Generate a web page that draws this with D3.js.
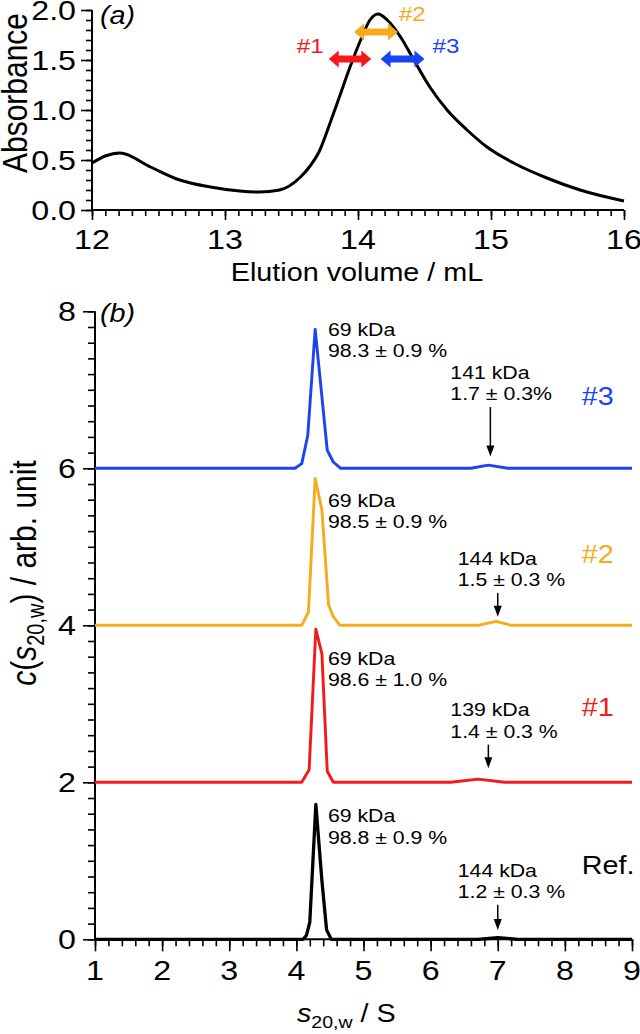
<!DOCTYPE html>
<html><head><meta charset="utf-8">
<script src="https://cdn.jsdelivr.net/npm/d3@7"></script>
<style>
body{margin:0;background:#fff}
svg{display:block}
text{font-family:"Liberation Sans",Arial,Helvetica,sans-serif}
</style>
</head><body>
<svg id="chart" width="640" height="1034"></svg>
<script>
// ---------- DATA: panel (a) size-exclusion chromatogram ----------
const elutionVolume = [12.0, 12.1, 12.21, 12.44, 12.66, 12.89, 13.11, 13.26, 13.41, 13.56, 13.64, 13.71, 13.79, 13.86, 13.94, 14.02, 14.09, 14.15, 14.22, 14.32, 14.42, 14.54, 14.67, 14.82, 14.97, 15.17, 15.42, 15.67, 16.0];
const absorbance    = [0.47, 0.54, 0.57, 0.43, 0.30, 0.23, 0.19, 0.18, 0.20, 0.32, 0.44, 0.59, 0.87, 1.13, 1.43, 1.70, 1.90, 1.96, 1.90, 1.73, 1.50, 1.23, 1.00, 0.80, 0.63, 0.47, 0.32, 0.20, 0.09];
const fractionNames = ["#1", "#2", "#3"];
const fractionStart = [13.78, 13.97, 14.17];
const fractionEnd   = [14.10, 14.30, 14.50];
const fractionLevel = [1.51, 1.78, 1.51];

// ---------- DATA: panel (b) c(s) distributions ----------
const seriesNames  = ["Ref.", "#1", "#2", "#3"];
const seriesOffset = [0, 2, 4, 6];
const sRef  = [1, 4.10, 4.15, 4.20, 4.29, 4.38, 4.45, 4.52, 6.7, 7.0, 7.3, 9];
const cRef  = [0, 0, 0.05, 0.22, 1.72, 0.75, 0.12, 0, 0, 0.02, 0, 0];
const sF1   = [1, 4.08, 4.19, 4.29, 4.38, 4.46, 4.55, 6.3, 6.71, 7.1, 9];
const cF1   = [0, 0, 0.16, 1.95, 1.64, 0.14, 0, 0, 0.04, 0, 0];
const sF2   = [1, 4.08, 4.18, 4.28, 4.38, 4.48, 4.55, 4.65, 6.7, 6.98, 7.2, 9];
const cF2   = [0, 0, 0.17, 1.87, 1.47, 0.26, 0.11, 0, 0, 0.05, 0, 0];
const sF3   = [1, 3.98, 4.08, 4.17, 4.28, 4.46, 4.55, 4.66, 6.6, 6.86, 7.15, 9];
const cF3   = [0, 0, 0.06, 0.42, 1.77, 0.23, 0.08, 0, 0, 0.04, 0, 0];
const monomerMass = ["69 kDa", "69 kDa", "69 kDa", "69 kDa"];
const monomerPct  = ["98.8 ± 0.9 %", "98.6 ± 1.0 %", "98.5 ± 0.9 %", "98.3 ± 0.9 %"];
const dimerMass   = ["144 kDa", "139 kDa", "144 kDa", "141 kDa"];
const dimerPct    = ["1.2 ± 0.3 %", "1.4 ± 0.3 %", "1.5 ± 0.3 %", "1.7 ± 0.3%"];
const dimerS      = [7.0, 6.86, 7.0, 6.89];

// ---------- tick labels ----------
const xTicksA = [12, 13, 14, 15, 16];
const yTicksA = [0, 0.5, 1.0, 1.5, 2.0];
const xTicksB = [1, 2, 3, 4, 5, 6, 7, 8, 9];
const yTicksB = [0, 2, 4, 6, 8];

// ---------- styles ----------
const colors = ["#000000", "#f41a1a", "#f6aa1c", "#1a43f2"];
const fracColors = [colors[1], colors[2], colors[3]];
const SX = 1.15; // horizontal text stretch of the original figure

const svg = d3.select("#chart");

function txt(g, x, y, s, size, anchor, opt) {
  opt = opt || {};
  const t = g.append("text")
    .attr("transform", `translate(${x},${y}) scale(${SX},1)` + (opt.rotate ? " rotate(-90)" : ""))
    .attr("font-size", size)
    .attr("text-anchor", anchor || "start")
    .attr("fill", opt.fill || "#000");
  if (opt.family) t.attr("font-family", opt.family);
  if (opt.italic) t.attr("font-style", "italic");
  if (s !== null) t.text(s);
  return t;
}

function drawAxes(x, y, xMajor, xMinor, yMajor, yMinor, xLen, yLen, xFmt, yFmt, xLabY, yLabX) {
  const g = svg.append("g");
  const y0 = y.range()[0], x0 = x.range()[0];
  const style = sel => { sel.select(".domain").remove(); sel.selectAll("line").attr("stroke", "#000").attr("stroke-width", 1.6); };
  g.append("g").attr("transform", `translate(0,${y0})`)
    .call(d3.axisBottom(x).tickValues(xMinor).tickSize(xLen[1]).tickFormat("")).call(style);
  g.append("g").attr("transform", `translate(0,${y0})`)
    .call(d3.axisBottom(x).tickValues(xMajor).tickSize(xLen[0]).tickFormat("")).call(style);
  g.append("g").attr("transform", `translate(${x0},0)`)
    .call(d3.axisLeft(y).tickValues(yMinor).tickSize(yLen[1]).tickFormat("")).call(style);
  g.append("g").attr("transform", `translate(${x0},0)`)
    .call(d3.axisLeft(y).tickValues(yMajor).tickSize(yLen[0]).tickFormat("")).call(style);
  g.append("line").attr("x1", x0).attr("x2", x.range()[1]).attr("y1", y0).attr("y2", y0)
    .attr("stroke", "#000").attr("stroke-width", 2);
  g.append("line").attr("x1", x0).attr("x2", x0).attr("y1", y0).attr("y2", y.range()[1])
    .attr("stroke", "#000").attr("stroke-width", 2);
  xMajor.forEach(v => txt(g, x(v), xLabY, xFmt(v), 28, "middle"));
  yMajor.forEach(v => txt(g, yLabX, y(v) + 10, yFmt(v), 28, "end"));
}

// ================= Panel (a) =================
const xA = d3.scaleLinear().domain([12, 16]).range([92, 624]);
const yA = d3.scaleLinear().domain([0, 2]).range([210, 10]);
drawAxes(xA, yA, xTicksA, d3.range(120, 161, 1).map(v => v / 10), yTicksA, d3.range(0, 21, 1).map(v => v / 10),
  [10, 6], [11, 6], d3.format("d"), d3.format(".1f"), 249, 76);

const lineA = d3.line().x((d, i) => xA(elutionVolume[i])).y(d => yA(d)).curve(d3.curveMonotoneX);
svg.append("path").attr("d", lineA(absorbance)).attr("fill", "none").attr("stroke", "#000").attr("stroke-width", 3);

// double-headed fraction arrows
fractionNames.forEach((n, i) => {
  const xs = xA(fractionStart[i]), xe = xA(fractionEnd[i]), yc = yA(fractionLevel[i]);
  const hl = 10, hh = 8.5, sh = 3.4;
  const p = d3.path();
  p.moveTo(xs, yc);
  p.lineTo(xs + hl, yc - hh); p.lineTo(xs + hl, yc - sh);
  p.lineTo(xe - hl, yc - sh); p.lineTo(xe - hl, yc - hh);
  p.lineTo(xe, yc); p.lineTo(xe - hl, yc + hh); p.lineTo(xe - hl, yc + sh);
  p.lineTo(xs + hl, yc + sh); p.lineTo(xs + hl, yc + hh); p.closePath();
  svg.append("path").attr("d", p.toString()).attr("fill", fracColors[i]);
});
const gA = svg.append("g");
txt(gA, xA(fractionStart[0]) - 32, yA(fractionLevel[0]) - 6, fractionNames[0], 21, "start", {fill: fracColors[0]});
txt(gA, xA(fractionEnd[1]) + 1, yA(fractionLevel[1]) - 11, fractionNames[1], 21, "start", {fill: fracColors[1]});
txt(gA, xA(fractionEnd[2]) + 8, yA(fractionLevel[2]) - 6, fractionNames[2], 21, "start", {fill: fracColors[2]});

txt(gA, 100, 24, "(a)", 25, "start", {family: "'Liberation Serif','Times New Roman',serif", italic: true});
txt(gA, 27, 93, "Absorbance", 30, "middle", {rotate: true});
txt(gA, 357, 281, "Elution volume / mL", 25, "middle");

// ================= Panel (b) =================
const xB = d3.scaleLinear().domain([1, 9]).range([95, 632]);
const yB = d3.scaleLinear().domain([0, 8]).range([939.3, 311.3]);
drawAxes(xB, yB, xTicksB, d3.range(10, 91, 2).map(v => v / 10), yTicksB, d3.range(0, 81, 2).map(v => v / 10),
  [12, 7], [12, 7], d3.format("d"), d3.format("d"), 980, 76);

const sArr = [sRef, sF1, sF2, sF3];
const cArr = [cRef, cF1, cF2, cF3];
[1, 2, 3, 0].forEach(k => {
  const line = d3.line().x((d, i) => xB(sArr[k][i])).y(d => yB(d + seriesOffset[k]));
  svg.append("path").attr("d", line(cArr[k])).attr("fill", "none")
    .attr("stroke", colors[k]).attr("stroke-width", k === 0 ? 3.3 : 2.9).attr("stroke-linejoin", "round");
});

const gB = svg.append("g");
const monoS = 4.47, dimTextDx = [-40, -38, -40, -40];
seriesNames.forEach((n, k) => {
  const off = seriesOffset[k];
  // monomer annotation
  txt(gB, xB(monoS), yB(off + [1.49, 1.49, 1.51, 1.68][k]), monomerMass[k], 18.5, "start");
  txt(gB, xB(monoS), yB(off + [1.22, 1.23, 1.24, 1.42][k]), monomerPct[k], 18.5, "start");
  // dimer annotation
  const ax = xB(dimerS[k]);
  const top = [0.80, 0.84, 0.77, 1.14][k];
  txt(gB, ax + dimTextDx[k], yB(off + top), dimerMass[k], 18.5, "start");
  txt(gB, ax + dimTextDx[k], yB(off + top - 0.27), dimerPct[k], 18.5, "start");
  const a0 = yB(off + top - 0.36), a1 = yB(off + [0.12, 0.18, 0.11, 0.15][k]);
  gB.append("line").attr("x1", ax).attr("x2", ax).attr("y1", a0).attr("y2", a1 - 9)
    .attr("stroke", "#000").attr("stroke-width", 1.5);
  gB.append("path").attr("d", `M${ax - 4},${a1 - 11}L${ax + 4},${a1 - 11}L${ax},${a1}Z`).attr("fill", "#000");
  // series label
  txt(gB, xB(8.25), yB(off + [0.83, 0.84, 0.79, 0.81][k]), n, 25, "start", {fill: colors[k]});
});

txt(gB, 100, 322, "(b)", 25, "start", {family: "'Liberation Serif','Times New Roman',serif", italic: true});

// y title with subscript
const yt = txt(gB, 36, 573, null, 30, "middle", {rotate: true});
yt.append("tspan").attr("font-style", "italic").text("c");
yt.append("tspan").text("(");
yt.append("tspan").attr("font-style", "italic").text("s");
yt.append("tspan").attr("font-size", 20).attr("dy", 7).text("20,w");
yt.append("tspan").attr("dy", -7).text(") / arb. unit");

// x title with subscript
const xt = txt(gB, 297, 1022, null, 25, "start");
xt.append("tspan").attr("font-style", "italic").text("s");
xt.append("tspan").attr("font-size", 17).attr("dy", 6).text("20,w");
xt.append("tspan").attr("dy", -6).text(" / S");
</script>
</body></html>
